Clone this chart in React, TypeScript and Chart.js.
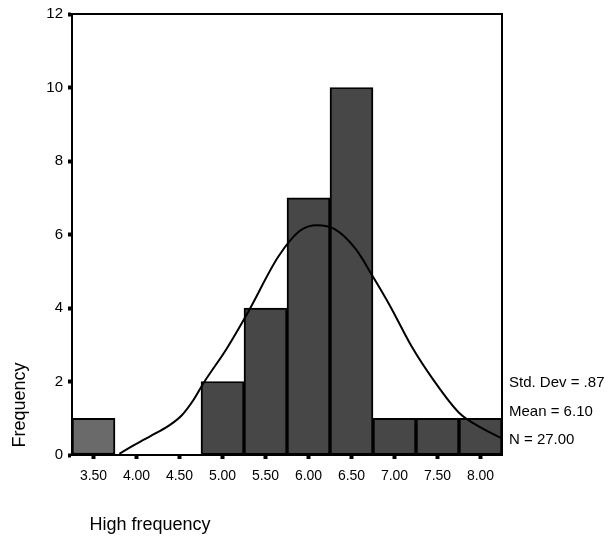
import React, { useEffect, useRef } from "react";
import { Chart, registerables } from "chart.js";

Chart.register(...registerables);

const binCenters = [3.5, 4.0, 4.5, 5.0, 5.5, 6.0, 6.5, 7.0, 7.5, 8.0];
const binCounts = [1, 0, 0, 2, 4, 7, 10, 1, 1, 1];
const curveX = [3.8, 3.94, 4.08, 4.23, 4.39, 4.53, 4.66, 4.78, 5.05, 5.3, 5.65, 5.9, 6.1, 6.3, 6.55, 6.75, 6.95, 7.2, 7.45, 7.75, 8.0, 8.25];
const curveY = [0.03, 0.23, 0.41, 0.6, 0.82, 1.09, 1.49, 1.96, 2.9, 3.9, 5.4, 6.1, 6.25, 6.15, 5.6, 4.85, 4.05, 2.95, 2.05, 1.15, 0.75, 0.45];
const yTicks = [0, 2, 4, 6, 8, 10, 12];
const statLines = ["Std. Dev = .87", "Mean = 6.10", "N = 27.00"];
const xTitle = "High frequency";
const yTitle = "Frequency";

const FONT = "'Liberation Sans', Arial, sans-serif";

export default function App() {
  const ref = useRef<HTMLCanvasElement | null>(null);

  useEffect(() => {
    if (!ref.current) return;
    const framePlugin = {
      id: "frame",
      afterDatasetsDraw(chart: any) {
        const { ctx, chartArea } = chart;
        ctx.save();
        ctx.strokeStyle = "#000";
        ctx.lineWidth = 2;
        ctx.strokeRect(chartArea.left, chartArea.top, chartArea.right - chartArea.left, chartArea.bottom - chartArea.top);
        ctx.restore();
      },
      afterDraw(chart: any) {
        const { ctx, chartArea } = chart;
        ctx.save();
        ctx.fillStyle = "#000";
        ctx.font = `15px ${FONT}`;
        ctx.textAlign = "left";
        ctx.textBaseline = "middle";
        const x0 = chartArea.right + 7;
        statLines.forEach((t, i) => ctx.fillText(t, x0, 383 + i * 28.5));
        ctx.font = `18px ${FONT}`;
        ctx.textAlign = "center";
        ctx.fillText(xTitle, 150, 525);
        ctx.translate(20, 405);
        ctx.rotate(-Math.PI / 2);
        ctx.fillText(yTitle, 0, 0);
        ctx.restore();
      },
    };

    const chart = new Chart(ref.current, {
      type: "bar",
      data: {
        datasets: [
          {
            type: "line",
            data: curveX.map((x, i) => ({ x, y: curveY[i] })),
            borderColor: "#000",
            borderWidth: 2,
            pointRadius: 0,
            cubicInterpolationMode: "monotone",
            fill: false,
            order: 0,
          } as any,
          {
            type: "bar",
            data: binCenters.map((x, i) => ({ x, y: binCounts[i] })),
            backgroundColor: binCenters.map((x) => (x < 4 ? "#6a6a6a" : "#474747")),
            borderColor: "#000",
            borderWidth: 2,
            borderSkipped: false,
            barPercentage: 1,
            categoryPercentage: 1,
            order: 1,
          } as any,
        ],
      },
      options: {
        animation: false,
        responsive: false,
        events: [],
        layout: { padding: { left: 0, right: 108, top: 13, bottom: 0 } },
        plugins: { legend: { display: false }, tooltip: { enabled: false } },
        scales: {
          x: {
            type: "linear",
            offset: false,
            min: 3.25,
            max: 8.25,
            afterBuildTicks: (s: any) => {
              s.ticks = binCenters.map((v) => ({ value: v }));
            },
            afterFit: (s: any) => {
              s.height = 87;
            },
            grid: { display: true, offset: false, drawOnChartArea: false, drawTicks: true, tickLength: 4, tickWidth: 4, tickColor: "#000" },
            border: { display: true, color: "#000", width: 2 },
            ticks: {
              color: "#000",
              font: { family: FONT, size: 14 },
              padding: 9,
              maxRotation: 0,
              autoSkip: false,
              callback: (v: any) => Number(v).toFixed(2),
            },
          },
          y: {
            type: "linear",
            min: 0,
            max: 12,
            afterBuildTicks: (s: any) => {
              s.ticks = yTicks.map((v) => ({ value: v }));
            },
            afterFit: (s: any) => {
              s.width = 72;
            },
            grid: { display: true, drawOnChartArea: false, drawTicks: true, tickLength: 4, tickWidth: 4, tickColor: "#000" },
            border: { display: true, color: "#000", width: 2 },
            ticks: {
              color: "#000",
              font: { family: FONT, size: 15 },
              padding: 5,
            },
          },
        },
      },
      plugins: [framePlugin],
    } as any);
    return () => chart.destroy();
  }, []);

  return (
    <div style={{ position: "fixed", left: 0, top: 0, width: 610, height: 542, background: "#fff" }}>
      <canvas ref={ref} width={610} height={542} style={{ width: 610, height: 542, display: "block" }} />
    </div>
  );
}
